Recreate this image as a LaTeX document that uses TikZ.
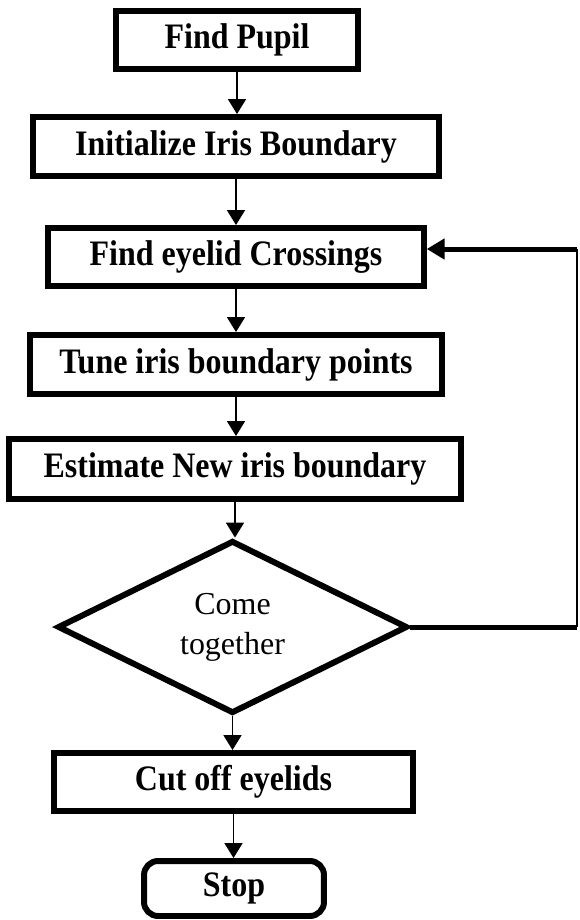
\documentclass[tikz,border=0pt]{standalone}
\usepackage{fontspec}
\usepackage{graphicx}
\setmainfont{Liberation Serif}
\usetikzlibrary{arrows.meta,shapes.geometric}
\newcommand{\tallt}[1]{\scalebox{1}[1.12]{#1}}
\tikzset{
  procbox/.style={draw, line width=3.4pt, inner sep=0pt, align=center,
    font=\fontsize{18.2}{21.6}\selectfont\bfseries},
  arr/.style={line width=1.1pt, -{Triangle[length=8.5pt,width=10.2pt]}},
}
\begin{document}
\begin{tikzpicture}[x=0.02cm, y=-0.02cm]
    \useasboundingbox (0,0) rectangle (579,920);
    % 流程框
    \node[procbox, minimum width=4.84cm, minimum height=1.16cm] (pupil) at (237,40) {\tallt{Find Pupil}};
    \node[procbox, minimum width=8.12cm, minimum height=1.18cm] (init) at (236,146.5) {\tallt{Initialize Iris Boundary}};
    \node[procbox, minimum width=7.51cm, minimum height=1.16cm] (cross) at (236,257) {\tallt{Find eyelid Crossings}};
    \node[procbox, minimum width=8.25cm, minimum height=1.18cm] (tune) at (236,364.5) {\tallt{Tune iris boundary points}};
    \node[procbox, minimum width=9.04cm, minimum height=1.2cm] (estim) at (235,469) {\tallt{Estimate New iris boundary}};
    \node[procbox, diamond, font=\fontsize{18.2}{22.8}\selectfont, minimum width=7cm, minimum height=3.28cm] (come) at (232.5,627) {Come\\together}; % 判断
    \node[procbox, minimum width=7.18cm, minimum height=1.16cm] (cut) at (233.5,782) {\tallt{Cut off eyelids}};
    \node[procbox, rounded corners=8pt, minimum width=3.6cm, minimum height=1.1cm] (stop) at (234,888.5) {\tallt{Stop}};
    % 箭头
    \draw[arr] (pupil.south) -- (pupil.south |- init.north);
    \draw[arr] (init.south) -- (init.south |- cross.north);
    \draw[arr] (cross.south) -- (cross.south |- tune.north);
    \draw[arr] (tune.south) -- (tune.south |- estim.north);
    \draw[arr] (estim.south) -- (estim.south |- come.north);
    \draw[arr] (come.south) -- (come.south |- cut.north);
    \draw[arr] (cut.south) -- (cut.south |- stop.north);
    % 回路
    \coordinate (turn) at (577,627);
    \coordinate (back) at (577,249);
    \draw[line width=2.85pt] (come.east) -- (turn);
    \draw[line width=1.7pt] (turn) -- (back);
    \draw[line width=2.85pt, -{Triangle[length=10.2pt,width=11.4pt]}] (back) -- (cross.east |- back);
\end{tikzpicture}
\end{document}
